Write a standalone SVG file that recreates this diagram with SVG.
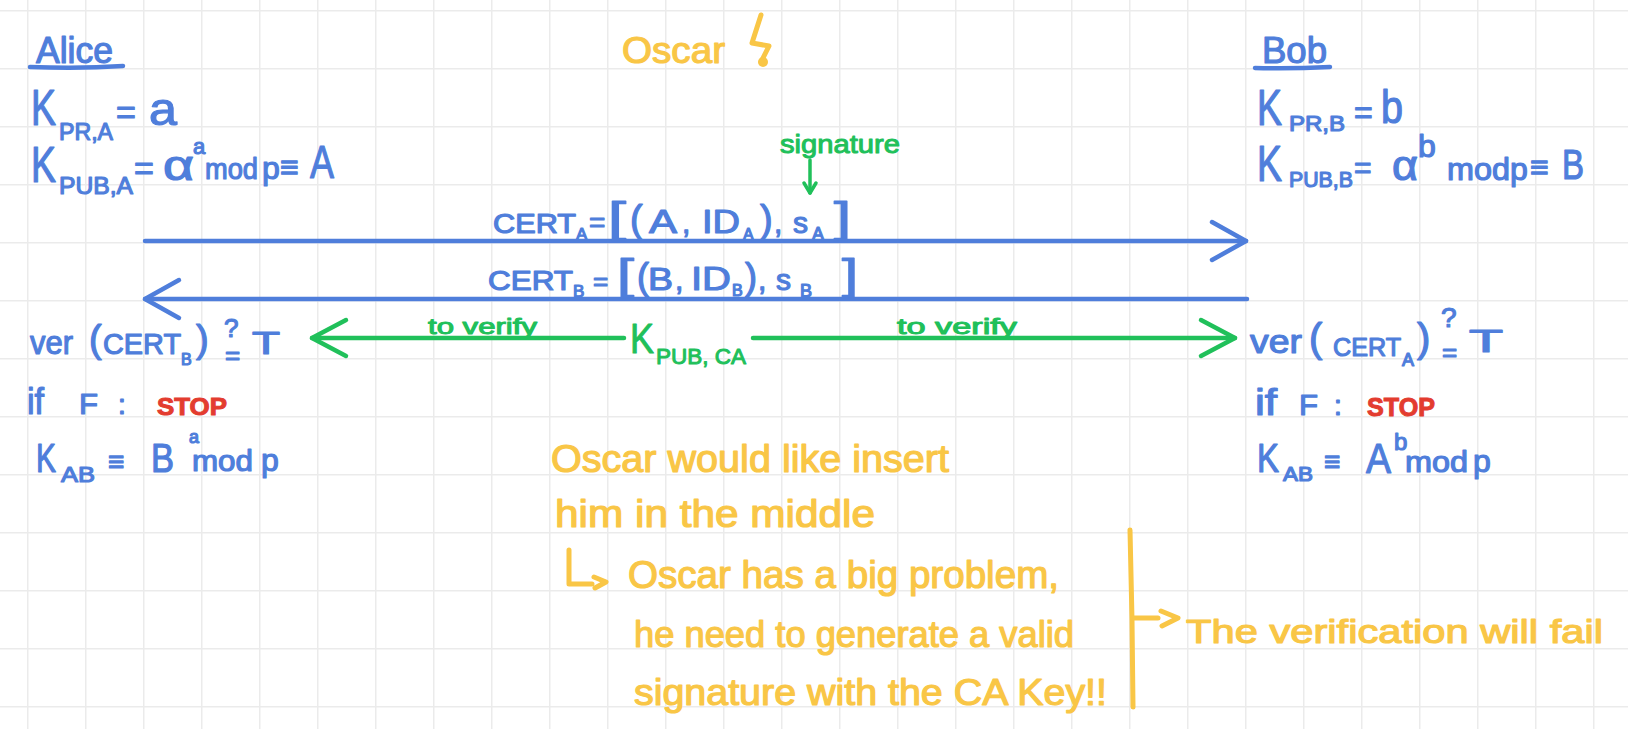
<svg xmlns="http://www.w3.org/2000/svg" width="1628" height="729" viewBox="0 0 1628 729">
<defs>
<style>
text{font-family:"Liberation Sans","DejaVu Sans",sans-serif;}
.b{fill:#4f7edb;stroke:#4f7edb;stroke-width:1.2;stroke-linejoin:round}
.g{fill:#20c05a;stroke:#20c05a;stroke-width:1;stroke-linejoin:round}
.y{fill:#f9c646;stroke:#f9c646;stroke-width:1.2;stroke-linejoin:round}
.r{fill:#e33c2f;stroke:#e33c2f;stroke-width:1;font-weight:bold}
.lb{stroke:#4f7edb;stroke-width:4.5;fill:none;stroke-linecap:round;stroke-linejoin:round}
.lg{stroke:#20c05a;stroke-width:4.5;fill:none;stroke-linecap:round;stroke-linejoin:round}
.ly{stroke:#f9c646;stroke-width:5;fill:none;stroke-linecap:round;stroke-linejoin:round}
</style>
<pattern id="grid" x="27" y="10" width="58" height="58" patternUnits="userSpaceOnUse">
<path d="M0,0 V58 M0,0 H58" stroke="#ebebeb" stroke-width="3" fill="none"/>
</pattern>
<marker id="ab" viewBox="-38 -22 42 44" refX="0" refY="0" markerWidth="42" markerHeight="44" markerUnits="userSpaceOnUse" orient="auto" overflow="visible">
<path d="M-34,-19 L0,0 L-34,19" class="lb"/>
</marker>
<marker id="ag" viewBox="-38 -22 42 44" refX="0" refY="0" markerWidth="42" markerHeight="44" markerUnits="userSpaceOnUse" orient="auto" overflow="visible">
<path d="M-34,-18 L0,0 L-34,18" class="lg"/>
</marker>
<marker id="ags" viewBox="-14 -10 16 20" refX="0" refY="0" markerWidth="16" markerHeight="20" markerUnits="userSpaceOnUse" orient="auto" overflow="visible">
<path d="M-10,-6 L0,0 L-10,6" stroke="#20c05a" stroke-width="3.5" fill="none" stroke-linecap="round" stroke-linejoin="round"/>
</marker>
</defs>
<rect width="1628" height="729" fill="#ffffff"/>
<rect width="1628" height="729" fill="url(#grid)"/>

<g id="connectors">
<path d="M145,241 H1246" class="lb" marker-end="url(#ab)"/>
<path d="M1247,299 H145" class="lb" marker-end="url(#ab)"/>
<path d="M624,338 H312" class="lg" marker-end="url(#ag)"/>
<path d="M753,338 H1235" class="lg" marker-end="url(#ag)"/>
<path d="M810,160 V193" stroke="#20c05a" stroke-width="3.5" fill="none" stroke-linecap="round" marker-end="url(#ags)"/>
<path d="M1130,530 L1132,620 L1133,707" class="ly"/>
<path d="M1133,618 H1158" class="ly" stroke-width="4"/>
<path d="M1161,611 L1178,618 L1162,626" class="ly" stroke-width="4"/>
<path d="M569,550 V584 H592" class="ly" stroke-width="4"/>
<path d="M594,577 L606,582 L595,588" class="ly" stroke-width="4"/>
</g>

<g id="alice">
<text class="b" x="36" y="63" font-size="36" textLength="77" lengthAdjust="spacingAndGlyphs">Alice</text>
<path d="M30,67 Q80,69 123,66" class="lb"/>
<text class="b" x="31" y="125" font-size="50" textLength="25" lengthAdjust="spacingAndGlyphs">K</text>
<text class="b" x="59" y="140" font-size="24" textLength="54" lengthAdjust="spacingAndGlyphs">PR,A</text>
<text class="b" x="116" y="124" font-size="34">=</text>
<text class="b" x="149" y="125" font-size="46" textLength="28" lengthAdjust="spacingAndGlyphs">a</text>
<text class="b" x="31" y="182" font-size="50" textLength="25" lengthAdjust="spacingAndGlyphs">K</text>
<text class="b" x="59" y="194" font-size="24" textLength="74" lengthAdjust="spacingAndGlyphs">PUB,A</text>
<text class="b" x="134" y="180" font-size="34">=</text>
<text class="b" x="163" y="180" font-size="42" textLength="31" lengthAdjust="spacingAndGlyphs">α</text>
<text class="b" x="193" y="154" font-size="22">a</text>
<text class="b" x="205" y="179" font-size="30" textLength="53" lengthAdjust="spacingAndGlyphs">mod</text>
<text class="b" x="262" y="179" font-size="32">p</text>
<text class="b" x="280" y="178" font-size="32">≡</text>
<text class="b" x="310" y="178" font-size="47" textLength="24" lengthAdjust="spacingAndGlyphs">A</text>
</g>

<g id="oscar">
<text class="y" x="622" y="63" font-size="36" textLength="103" lengthAdjust="spacingAndGlyphs">Oscar</text>
<path d="M761,15 L752,43 L769,46 L761,62" class="ly"/>
<circle cx="763" cy="62" r="5" fill="#f9c646"/>
</g>

<g id="bob">
<text class="b" x="1262" y="63" font-size="36" textLength="65" lengthAdjust="spacingAndGlyphs">Bob</text>
<path d="M1255,68 Q1290,69 1330,67" class="lb"/>
<text class="b" x="1257" y="125" font-size="50" textLength="25" lengthAdjust="spacingAndGlyphs">K</text>
<text class="b" x="1289" y="131" font-size="22" textLength="56" lengthAdjust="spacingAndGlyphs">PR,B</text>
<text class="b" x="1354" y="123" font-size="32">=</text>
<text class="b" x="1381" y="123" font-size="46" textLength="22" lengthAdjust="spacingAndGlyphs">b</text>
<text class="b" x="1257" y="181" font-size="50" textLength="25" lengthAdjust="spacingAndGlyphs">K</text>
<text class="b" x="1289" y="187" font-size="22" textLength="64" lengthAdjust="spacingAndGlyphs">PUB,B</text>
<text class="b" x="1354" y="178" font-size="30">=</text>
<text class="b" x="1392" y="180" font-size="42" textLength="26" lengthAdjust="spacingAndGlyphs">α</text>
<text class="b" x="1418" y="157" font-size="32">b</text>
<text class="b" x="1447" y="180" font-size="32" textLength="63" lengthAdjust="spacingAndGlyphs">mod</text>
<text class="b" x="1510" y="180" font-size="32">p</text>
<text class="b" x="1530" y="178" font-size="32">≡</text>
<text class="b" x="1562" y="179" font-size="42" textLength="22" lengthAdjust="spacingAndGlyphs">B</text>
</g>

<g id="signature">
<text class="g" x="780" y="153" font-size="26" textLength="120" lengthAdjust="spacingAndGlyphs">signature</text>
</g>

<g id="cert-a">
<text class="b" x="493" y="233" font-size="28" textLength="83" lengthAdjust="spacingAndGlyphs">CERT</text>
<text class="b" x="576" y="240" font-size="17">A</text>
<text class="b" x="589" y="232" font-size="28">=</text>
<text class="b" x="608" y="232" font-size="42" textLength="18" lengthAdjust="spacingAndGlyphs">[</text>
<text class="b" x="630" y="232" font-size="38">(</text>
<text class="b" x="649" y="233" font-size="34" textLength="28" lengthAdjust="spacingAndGlyphs">A</text>
<text class="b" x="682" y="233" font-size="30">,</text>
<text class="b" x="702" y="233" font-size="34" textLength="38" lengthAdjust="spacingAndGlyphs">ID</text>
<text class="b" x="743" y="240" font-size="16">A</text>
<text class="b" x="760" y="232" font-size="38">)</text>
<text class="b" x="774" y="233" font-size="30">,</text>
<text class="b" x="793" y="233" font-size="30">s</text>
<text class="b" x="812" y="240" font-size="18">A</text>
<text class="b" x="834" y="232" font-size="42" textLength="17" lengthAdjust="spacingAndGlyphs">]</text>
</g>

<g id="cert-b">
<text class="b" x="488" y="290" font-size="28" textLength="85" lengthAdjust="spacingAndGlyphs">CERT</text>
<text class="b" x="573" y="297" font-size="17">B</text>
<text class="b" x="593" y="290" font-size="26">=</text>
<text class="b" x="617" y="289" font-size="42" textLength="17" lengthAdjust="spacingAndGlyphs">[</text>
<text class="b" x="637" y="289" font-size="36">(</text>
<text class="b" x="648" y="290" font-size="32" textLength="25" lengthAdjust="spacingAndGlyphs">B</text>
<text class="b" x="675" y="290" font-size="30">,</text>
<text class="b" x="691" y="290" font-size="34" textLength="40" lengthAdjust="spacingAndGlyphs">ID</text>
<text class="b" x="732" y="296" font-size="16">B</text>
<text class="b" x="745" y="289" font-size="36">)</text>
<text class="b" x="758" y="290" font-size="30">,</text>
<text class="b" x="776" y="290" font-size="30">s</text>
<text class="b" x="800" y="297" font-size="18">B</text>
<text class="b" x="842" y="289" font-size="42" textLength="16" lengthAdjust="spacingAndGlyphs">]</text>
</g>

<g id="kpub-ca">
<text class="g" x="630" y="353" font-size="42" textLength="24" lengthAdjust="spacingAndGlyphs">K</text>
<text class="g" x="656" y="364" font-size="22" textLength="90" lengthAdjust="spacingAndGlyphs">PUB, CA</text>
<text class="g" x="428" y="334" font-size="22" textLength="109" lengthAdjust="spacingAndGlyphs">to verify</text>
<text class="g" x="897" y="334" font-size="22" textLength="120" lengthAdjust="spacingAndGlyphs">to verify</text>
</g>

<g id="alice-verify">
<text class="b" x="30" y="354" font-size="34" textLength="43" lengthAdjust="spacingAndGlyphs">ver</text>
<text class="b" x="89" y="352" font-size="38">(</text>
<text class="b" x="103" y="354" font-size="30" textLength="78" lengthAdjust="spacingAndGlyphs">CERT</text>
<text class="b" x="181" y="365" font-size="16">B</text>
<text class="b" x="196" y="352" font-size="38">)</text>
<text class="b" x="224" y="337" font-size="26">?</text>
<text class="b" x="225" y="364" font-size="26">=</text>
<text class="b" x="252" y="354" font-size="32" textLength="28" lengthAdjust="spacingAndGlyphs">T</text>
<text class="b" x="27" y="414" font-size="37" textLength="17" lengthAdjust="spacingAndGlyphs">if</text>
<text class="b" x="79" y="414" font-size="30" textLength="19" lengthAdjust="spacingAndGlyphs">F</text>
<text class="b" x="118" y="414" font-size="28">:</text>
<text class="r" x="157" y="415" font-size="24" textLength="70" lengthAdjust="spacingAndGlyphs">STOP</text>
<text class="b" x="36" y="472" font-size="40" textLength="20" lengthAdjust="spacingAndGlyphs">K</text>
<text class="b" x="61" y="482" font-size="22" textLength="34" lengthAdjust="spacingAndGlyphs">AB</text>
<text class="b" x="108" y="471" font-size="28">≡</text>
<text class="b" x="151" y="472" font-size="40" textLength="23" lengthAdjust="spacingAndGlyphs">B</text>
<text class="b" x="189" y="443" font-size="18">a</text>
<text class="b" x="192" y="471" font-size="30" textLength="61" lengthAdjust="spacingAndGlyphs">mod</text>
<text class="b" x="261" y="471" font-size="32">p</text>
</g>

<g id="bob-verify">
<text class="b" x="1250" y="353" font-size="34" textLength="52" lengthAdjust="spacingAndGlyphs">ver</text>
<text class="b" x="1309" y="352" font-size="40">(</text>
<text class="b" x="1333" y="356" font-size="26" textLength="68" lengthAdjust="spacingAndGlyphs">CERT</text>
<text class="b" x="1402" y="366" font-size="18">A</text>
<text class="b" x="1417" y="352" font-size="40">)</text>
<text class="b" x="1441" y="327" font-size="28">?</text>
<text class="b" x="1442" y="361" font-size="26">=</text>
<text class="b" x="1469" y="352" font-size="32" textLength="34" lengthAdjust="spacingAndGlyphs">T</text>
<text class="b" x="1255" y="415" font-size="36" textLength="22" lengthAdjust="spacingAndGlyphs">if</text>
<text class="b" x="1299" y="415" font-size="30" textLength="19" lengthAdjust="spacingAndGlyphs">F</text>
<text class="b" x="1334" y="415" font-size="28">:</text>
<text class="r" x="1367" y="416" font-size="26" textLength="68" lengthAdjust="spacingAndGlyphs">STOP</text>
<text class="b" x="1257" y="472" font-size="40" textLength="22" lengthAdjust="spacingAndGlyphs">K</text>
<text class="b" x="1283" y="481" font-size="20" textLength="30" lengthAdjust="spacingAndGlyphs">AB</text>
<text class="b" x="1324" y="471" font-size="28">≡</text>
<text class="b" x="1366" y="473" font-size="42" textLength="25" lengthAdjust="spacingAndGlyphs">A</text>
<text class="b" x="1394" y="450" font-size="24">b</text>
<text class="b" x="1405" y="472" font-size="30" textLength="63" lengthAdjust="spacingAndGlyphs">mod</text>
<text class="b" x="1473" y="472" font-size="32">p</text>
</g>

<g id="oscar-note">
<text class="y" x="551" y="472" font-size="38" textLength="398" lengthAdjust="spacingAndGlyphs">Oscar would like insert</text>
<text class="y" x="555" y="527" font-size="38" textLength="320" lengthAdjust="spacingAndGlyphs">him in the middle</text>
<text class="y" x="628" y="588" font-size="38" textLength="431" lengthAdjust="spacingAndGlyphs">Oscar has a big problem,</text>
<text class="y" x="634" y="647" font-size="36" textLength="440" lengthAdjust="spacingAndGlyphs">he need to generate a valid</text>
<text class="y" x="634" y="705" font-size="36" textLength="473" lengthAdjust="spacingAndGlyphs">signature with the CA Key!!</text>
</g>

<g id="verification-note">
<text class="y" x="1186" y="643" font-size="34" textLength="417" lengthAdjust="spacingAndGlyphs">The verification will fail</text>
</g>
</svg>
